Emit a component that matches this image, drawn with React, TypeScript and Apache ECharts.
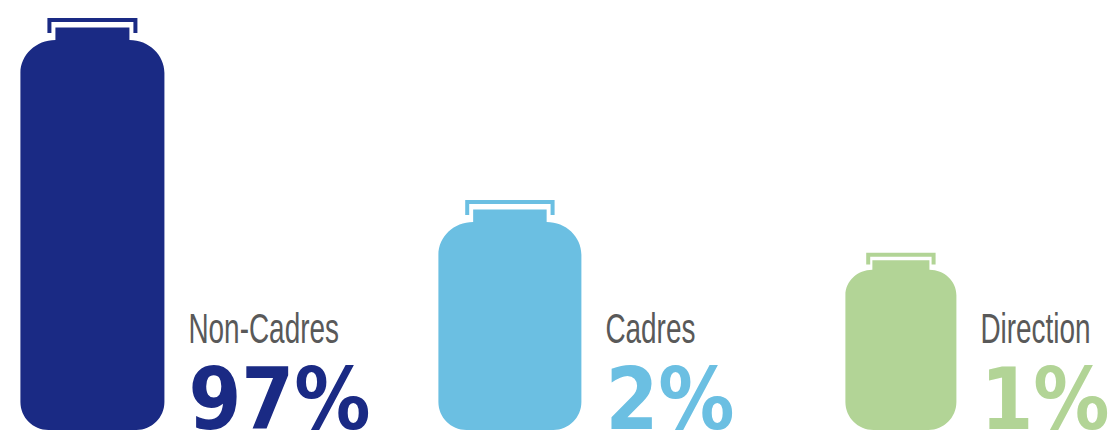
import React, { useEffect, useRef } from "react";
import * as echarts from "echarts";

// ---- data ----
const categories = ["Non-Cadres", "Cadres", "Direction"];
const percentages = [97, 2, 1];
const jarLevels = [100, 55.8, 43]; // jar height (cap top) on the 0-100 axis

// ---- styles ----
const colors = ["#1a2a84", "#6bbfe2", "#b2d496"];
const jarWidths = [144, 143, 111];
const LABEL_FAMILY = "'Liberation Sans', Arial, sans-serif";
const LABEL_SIZE = 42;
const LABEL_SCALE = 0.665;
const PCT_FAMILY = "'DejaVu Sans', sans-serif";
const PCT_SIZE = 86;
const PCT_SCALE = 0.885;
const GAP = 24;

let measureCtx: CanvasRenderingContext2D | null = null;
function textWidth(text: string, font: string): number {
  if (!measureCtx) {
    measureCtx = document.createElement("canvas").getContext("2d");
  }
  if (!measureCtx) return text.length * 20;
  measureCtx.font = font;
  return measureCtx.measureText(text).width;
}

export default function App() {
  const ref = useRef<HTMLDivElement>(null);

  useEffect(() => {
    if (!ref.current) return;
    const chart = echarts.init(ref.current, null, { renderer: "svg" });

    const renderItem = (params: any, api: any) => {
      const i = params.dataIndex;
      const [cx, B] = api.coord([api.value(0), 0]);
      const T = api.coord([api.value(0), api.value(1)])[1];
      const pct = api.value(2) + "%";
      const W = jarWidths[i];
      const s = W / 144;
      const color = colors[i];

      const labelW =
        textWidth(categories[i], `${LABEL_SIZE}px ${LABEL_FAMILY}`) * LABEL_SCALE;
      const pctW =
        textWidth(pct, `bold ${PCT_SIZE}px ${PCT_FAMILY}`) * PCT_SCALE;
      const groupW = W + GAP + Math.max(labelW, pctW);
      const L = cx - groupW / 2;
      const R = L + W;

      // jar body path
      const neckIn = 35 * s;
      const neckTop = T + 9.5 * s;
      const shoulderY = T + 22 * s;
      const fullY = T + 55 * s;
      const rx = neckIn;
      const ry = fullY - shoulderY;
      const k = 0.5523;
      const r = 28;
      const body = [
        `M${L + neckIn},${neckTop}`,
        `L${R - neckIn},${neckTop}`,
        `L${R - neckIn},${shoulderY}`,
        `C${R - neckIn + k * rx},${shoulderY} ${R},${fullY - k * ry} ${R},${fullY}`,
        `L${R},${B - r}`,
        `C${R},${B - r + k * r} ${R - r + k * r},${B} ${R - r},${B}`,
        `L${L + r},${B}`,
        `C${L + r - k * r},${B} ${L},${B - r + k * r} ${L},${B - r}`,
        `L${L},${fullY}`,
        `C${L},${fullY - k * ry} ${L + neckIn - k * rx},${shoulderY} ${L + neckIn},${shoulderY}`,
        "Z",
      ].join(" ");

      // cap bracket
      const capIn = 27 * s;
      const x1 = L + capIn;
      const x2 = R - capIn;
      const t = 4;
      const legB = T + 15 * s;
      const cap = [
        `M${x1},${legB}`,
        `L${x1},${T}`,
        `L${x2},${T}`,
        `L${x2},${legB}`,
        `L${x2 - t},${legB}`,
        `L${x2 - t},${T + t}`,
        `L${x1 + t},${T + t}`,
        `L${x1 + t},${legB}`,
        "Z",
      ].join(" ");

      const tx = R + GAP;
      const central = 0.346;
      const labelBase = B - 87;
      const pctBase = B - 1;

      return {
        type: "group",
        children: [
          { type: "path", shape: { pathData: body }, style: { fill: color } },
          { type: "path", shape: { pathData: cap }, style: { fill: color } },
          {
            type: "text",
            x: tx,
            y: labelBase - central * LABEL_SIZE,
            scaleX: LABEL_SCALE,
            style: {
              text: categories[i],
              fontSize: LABEL_SIZE,
              fontFamily: LABEL_FAMILY,
              fontWeight: "normal",
              fill: "#595959",
              align: "left",
              verticalAlign: "middle",
            },
          },
          {
            type: "text",
            x: tx,
            y: pctBase - central * PCT_SIZE,
            scaleX: PCT_SCALE,
            style: {
              text: pct,
              fontSize: PCT_SIZE,
              fontFamily: PCT_FAMILY,
              fontWeight: "bold",
              fill: color,
              align: "left",
              verticalAlign: "middle",
            },
          },
        ],
      };
    };

    chart.setOption({
      animation: false,
      backgroundColor: "#ffffff",
      grid: { left: 0, right: 0, top: 18, bottom: 2 },
      xAxis: { type: "value", min: -0.5, max: 2.3542, show: false },
      yAxis: { type: "value", min: 0, max: 100, show: false },
      series: [
        {
          type: "custom",
          renderItem,
          clip: false,
          encode: { x: 0, y: 1 },
          data: percentages.map((p, i) => [i, jarLevels[i], p]),
        },
      ],
    });

    return () => chart.dispose();
  }, []);

  return (
    <div
      ref={ref}
      style={{ position: "fixed", left: 0, top: 0, width: 1116, height: 432, background: "#fff" }}
    />
  );
}
